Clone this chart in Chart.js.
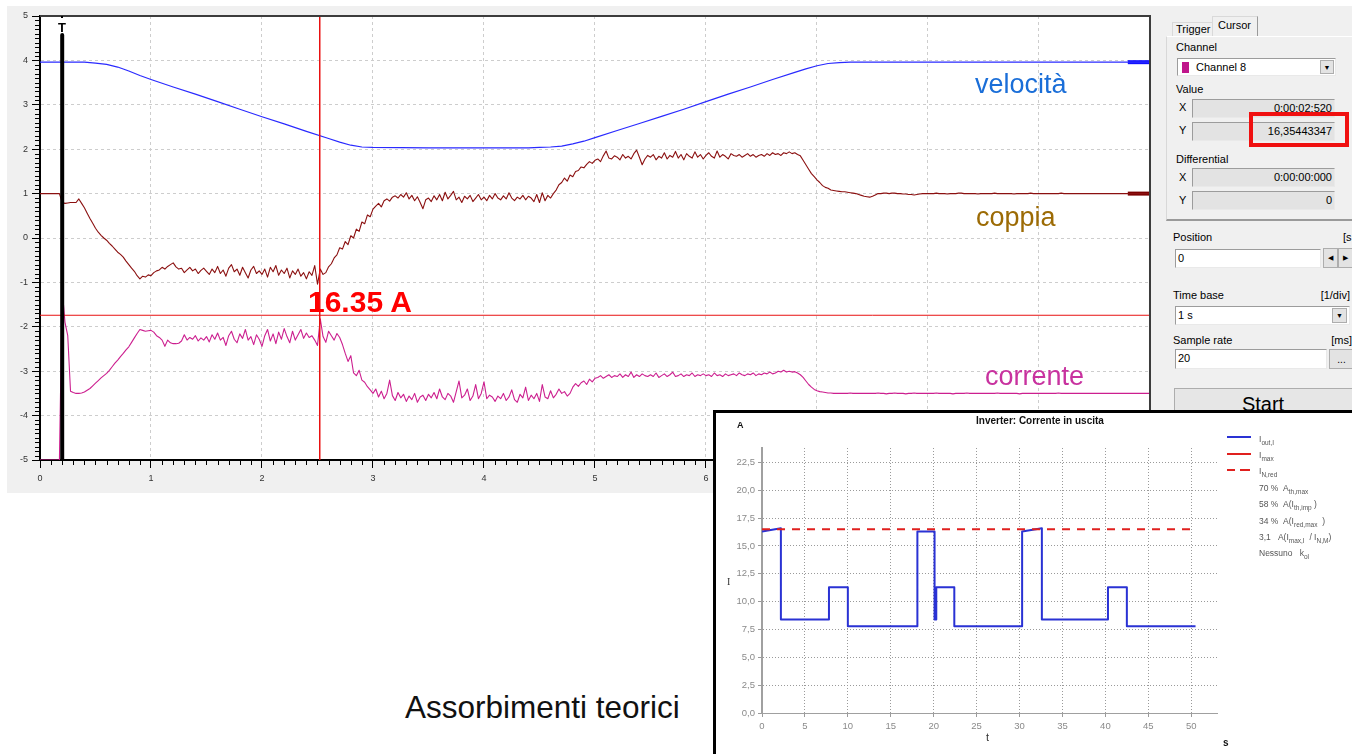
<!DOCTYPE html>
<html lang="it">
<head>
<meta charset="utf-8">
<title>Assorbimenti teorici</title>
<script src="https://cdn.jsdelivr.net/npm/chart.js@4.4.1/dist/chart.umd.min.js"></script>
<style>
  html, body { margin: 0; padding: 0; }
  body { width: 1352px; height: 754px; position: relative; overflow: hidden; background: #fff;
         font-family: 'Liberation Sans', Arial, sans-serif; }
  .abs { position: absolute; white-space: nowrap; }
  #scopeBox { left: 7px; top: 6px; width: 1153px; height: 487px; background: #f0f0f0; }
  #scope { position: absolute; left: 0; top: 0; }
  #panel { left: 1160px; top: 6px; width: 192px; height: 404px; background: #f0f0f0; }
  .ann { position: absolute; white-space: nowrap; line-height: 1; }
  .ui { position: absolute; white-space: nowrap; font-size: 11px; line-height: 13px; color: #000; }
  .tab { position: absolute; box-sizing: border-box; font-size: 11px; line-height: 13px; padding-left: 3px;
         border: 1px solid #d9d9d9; border-right-color: #9a9a9a; border-bottom: none; background: #f0f0f0; }
  .group { position: absolute; box-sizing: border-box; border: 1px solid #ffffff; border-left-color: #d8d8d8;
           border-bottom: 2px solid #9a9a9a; }
  .field { position: absolute; box-sizing: border-box; border: 1px solid #9c9c9c; border-right-color: #e9e9e9;
           border-bottom-color: #e9e9e9; background: #e3e3e3; font-size: 11px; line-height: 17px;
           text-align: right; padding-right: 2px; }
  .input { position: absolute; box-sizing: border-box; border: 1px solid #9c9c9c; border-right-color: #e9e9e9;
           border-bottom-color: #e9e9e9; background: #fff; font-size: 11px; line-height: 17px; padding-left: 2px; }
  .btn { position: absolute; box-sizing: border-box; border: 1px solid #adadad; background: #e3e3e3;
         text-align: center; font-size: 7px; line-height: 16px; color: #000; }
  .swatch { position: absolute; left: 4px; top: 3px; width: 7px; height: 11px; background: #c0168b; }
  #redBox { left: 1249px; top: 112px; width: 100px; height: 35px; box-sizing: border-box; border: 4px solid #f01010; }
  #inset { left: 713px; top: 410px; width: 639px; height: 344px; box-sizing: border-box; background: #fff;
           border-left: 3px solid #000; border-top: 3px solid #000; z-index: 2; }
  #inverter { position: absolute; left: 0; top: 0; }
  .ins { position: absolute; white-space: nowrap; z-index: 3; line-height: 1; }
  .leg { position: absolute; white-space: nowrap; z-index: 3; font-size: 8.5px; line-height: 10px; color: #555; }
  .leg sub { font-size: 6.5px; vertical-align: -3px; }
  .legline { position: absolute; z-index: 3; height: 0; }
</style>
</head>
<body>

<div class="abs" id="scopeBox"><canvas id="scope" width="1153" height="487"></canvas></div>

<!-- trigger marker -->
<div class="abs" style="left:61px;top:16px;width:2px;height:2px;background:#000"></div>
<div class="ann" style="left:58px;top:21px;font-size:13px;font-weight:bold;color:#000">T</div>

<!-- curve labels -->
<div class="ann" style="left:975px;top:71px;font-size:27px;color:#1a6ed8">velocità</div>
<div class="ann" style="left:976px;top:204px;font-size:27px;color:#9c6b05">coppia</div>
<div class="ann" style="left:985px;top:363px;font-size:27px;color:#c8329f">corrente</div>
<div class="ann" style="left:308px;top:287px;font-size:30px;font-weight:bold;color:#ff0000">16.35 A</div>

<!-- right control panel -->
<div class="abs" id="panel"></div>
<div class="tab" style="left:1172px;top:22px;width:41px;height:15px">Trigger</div>
<div class="tab" style="left:1212px;top:16px;width:46px;height:21px;padding-top:2px;padding-left:5px">Cursor</div>
<div class="group" style="left:1166px;top:36px;width:190px;height:185px"></div>
<div class="ui" style="left:1176px;top:41px">Channel</div>
<div class="input" style="left:1177px;top:58px;width:159px;height:18px;padding-left:18px">
  <span class="swatch"></span>Channel 8
  <span class="btn" style="left:142px;top:1px;width:14px;height:14px;line-height:13px">&#9660;</span>
</div>
<div class="ui" style="left:1176px;top:83px">Value</div>
<div class="ui" style="left:1179px;top:101px">X</div>
<div class="field" style="left:1192px;top:99px;width:143px;height:19px">0:00:02:520</div>
<div class="ui" style="left:1179px;top:124px">Y</div>
<div class="field" style="left:1192px;top:122px;width:143px;height:19px">16,35443347</div>
<div class="abs" id="redBox"></div>
<div class="ui" style="left:1176px;top:153px">Differential</div>
<div class="ui" style="left:1179px;top:171px">X</div>
<div class="field" style="left:1192px;top:168px;width:143px;height:19px">0:00:00:000</div>
<div class="ui" style="left:1179px;top:194px">Y</div>
<div class="field" style="left:1192px;top:191px;width:143px;height:19px">0</div>

<div class="ui" style="left:1173px;top:231px">Position</div>
<div class="ui" style="left:1343px;top:231px">[s</div>
<div class="input" style="left:1175px;top:249px;width:146px;height:19px">0</div>
<div class="btn" style="left:1323px;top:248px;width:15px;height:20px;line-height:18px">&#9664;</div>
<div class="btn" style="left:1338px;top:248px;width:15px;height:20px;line-height:18px">&#9654;</div>

<div class="ui" style="left:1173px;top:289px">Time base</div>
<div class="ui" style="left:1312px;top:289px;width:38px;text-align:right">[1/div]</div>
<div class="input" style="left:1175px;top:306px;width:175px;height:19px">1 s
  <span class="btn" style="left:156px;top:1px;width:15px;height:15px;line-height:14px">&#9660;</span>
</div>
<div class="ui" style="left:1173px;top:334px">Sample rate</div>
<div class="ui" style="left:1322px;top:334px;width:30px;text-align:right">[ms]</div>
<div class="input" style="left:1175px;top:349px;width:152px;height:20px">20</div>
<div class="btn" style="left:1329px;top:349px;width:25px;height:20px;font-size:10px;line-height:20px">...</div>
<div class="btn" style="left:1174px;top:388px;width:180px;height:40px;background:#e6e6e6"></div>
<div class="ann" style="left:1174px;top:394px;width:178px;text-align:center;font-size:20px;color:#000">Start</div>

<div class="ann" style="left:405px;top:692px;font-size:31.5px;color:#111">Assorbimenti teorici</div>

<!-- inverter inset -->
<div class="abs" id="inset"><canvas id="inverter" width="636" height="341"></canvas></div>
<div class="ins" style="left:737px;top:421px;font-size:9px;font-weight:bold;color:#111">A</div>
<div class="ins" style="left:940px;top:416px;width:200px;text-align:center;font-size:10px;font-weight:bold;color:#111">Inverter: Corrente in uscita</div>
<div class="ins" style="left:727px;top:577px;font-size:10px;font-family:'Liberation Serif',serif;color:#333">I</div>
<div class="ins" style="left:986px;top:732px;font-size:11px;color:#333">t</div>
<div class="ins" style="left:1223px;top:738px;font-size:10px;font-weight:bold;color:#111">s</div>

<div class="legline" style="left:1227px;top:436px;width:24px;border-top:2px solid #2a32d4"></div>
<div class="leg" style="left:1259px;top:434px">I<sub>out,I</sub></div>
<div class="legline" style="left:1227px;top:453px;width:24px;border-top:2px solid #e0201e"></div>
<div class="leg" style="left:1259px;top:450px">I<sub>max</sub></div>
<div class="legline" style="left:1227px;top:469px;width:8px;border-top:2px solid #e0201e"></div>
<div class="legline" style="left:1240px;top:469px;width:10px;border-top:2px solid #e0201e"></div>
<div class="leg" style="left:1259px;top:466px">I<sub>N,red</sub></div>
<div class="leg" style="left:1259px;top:483px">70 %&nbsp;&nbsp;A<sub>th,max</sub></div>
<div class="leg" style="left:1259px;top:499px">58 %&nbsp;&nbsp;A(I<sub>th,imp</sub>&nbsp;)</div>
<div class="leg" style="left:1259px;top:516px">34 %&nbsp;&nbsp;A(I<sub>red,max</sub>&nbsp;&nbsp;)</div>
<div class="leg" style="left:1259px;top:532px">3,1&nbsp;&nbsp;&nbsp;A(I<sub>max,I</sub>&nbsp;&nbsp;/ I<sub>N,M</sub>)</div>
<div class="leg" style="left:1259px;top:548px">Nessuno&nbsp;&nbsp;&nbsp;k<sub>ol</sub></div>

<script>
// ---- oscilloscope traces (time in s) ----
const sampleStep = 0.025;

const velTimes = [0, 0.4, 0.5, 0.6, 0.7, 0.8, 0.9, 1.0, 1.2, 1.4, 1.6, 1.8, 2.0, 2.2, 2.4, 2.6, 2.7, 2.8, 2.9, 3.0,
  3.5, 4.0, 4.4, 4.5, 4.6, 4.7, 4.8, 4.9, 5.0, 5.2, 5.4, 5.6, 5.8, 6.0, 6.2, 6.4, 6.6, 6.8, 6.9, 7.0, 7.1, 7.2, 7.3,
  8.0, 9.0, 10.0];
const velValues = [3.96, 3.96, 3.94, 3.91, 3.85, 3.76, 3.66, 3.57, 3.40, 3.24, 3.07, 2.90, 2.73, 2.57, 2.40, 2.24, 2.16, 2.09, 2.05, 2.04,
  2.03, 2.03, 2.03, 2.04, 2.05, 2.07, 2.12, 2.18, 2.26, 2.42, 2.58, 2.74, 2.90, 3.07, 3.24, 3.40, 3.57, 3.73, 3.81, 3.88, 3.93, 3.95, 3.96,
  3.96, 3.96, 3.96];

// one row = 0.5 s
const coppiaValues = [
  1.00, 1.00, 1.00, 1.00, 1.00, 1.00, 1.00, 1.00, 0.80, 0.78, 0.79, 0.80, 0.80, 0.80, 0.88, 0.78, 0.68, 0.56, 0.44, 0.33,
  0.22, 0.13, 0.06, 0.00, -0.05, -0.12, -0.18, -0.25, -0.32, -0.37, -0.43, -0.52, -0.60, -0.68, -0.75, -0.85, -0.92, -0.86, -0.88, -0.83,
  -0.85, -0.78, -0.74, -0.72, -0.66, -0.70, -0.64, -0.60, -0.56, -0.65, -0.70, -0.68, -0.78, -0.72, -0.66, -0.74, -0.70, -0.80, -0.73, -0.68,
  -0.75, -0.82, -0.70, -0.78, -0.64, -0.80, -0.72, -0.86, -0.68, -0.60, -0.76, -0.70, -0.84, -0.66, -0.78, -0.90, -0.72, -0.64, -0.80, -0.74,
  -0.82, -0.70, -0.88, -0.66, -0.76, -0.62, -0.84, -0.72, -0.80, -0.68, -0.90, -0.74, -0.82, -0.70, -0.86, -0.78, -0.92, -0.76, -0.84, -0.62,
  -1.04, -0.70, -0.82, -0.78, -0.65, -0.58, -0.45, -0.38, -0.22, -0.25, -0.08, -0.15, 0.05, 0.00, 0.20, 0.15, 0.36, 0.32, 0.52, 0.48,
  0.65, 0.72, 0.78, 0.70, 0.84, 0.88, 0.83, 0.92, 0.95, 0.90, 0.98, 0.92, 1.02, 0.88, 0.96, 0.84, 0.93, 0.80, 0.66, 0.86,
  0.90, 0.82, 0.95, 0.86, 0.98, 0.84, 1.03, 0.88, 0.96, 1.05, 0.86, 0.92, 0.80, 0.94, 0.88, 0.96, 0.82, 0.90, 0.98, 0.86,
  0.92, 0.84, 0.96, 0.88, 1.00, 0.90, 0.86, 0.95, 0.88, 1.02, 0.90, 0.84, 0.92, 0.88, 0.96, 0.86, 0.94, 0.90, 0.82, 0.98,
  0.80, 1.02, 0.84, 0.96, 0.90, 1.00, 1.08, 1.20, 1.25, 1.35, 1.28, 1.42, 1.38, 1.50, 1.52, 1.60, 1.58, 1.66, 1.72, 1.68,
  1.75, 1.78, 1.72, 1.85, 1.96, 1.80, 1.78, 1.85, 1.82, 1.76, 1.88, 1.80, 1.84, 1.78, 1.90, 1.98, 1.82, 1.65, 1.78, 1.86,
  1.82, 1.88, 1.76, 1.84, 1.80, 1.92, 1.78, 1.86, 1.82, 1.95, 1.80, 1.88, 1.76, 1.90, 1.84, 1.80, 1.94, 1.82, 1.88, 1.78,
  1.86, 1.92, 1.84, 1.80, 1.96, 1.82, 1.88, 1.84, 1.78, 1.90, 1.86, 1.84, 1.88, 1.82, 1.86, 1.90, 1.84, 1.88, 1.82, 1.86,
  1.88, 1.84, 1.90, 1.86, 1.92, 1.88, 1.90, 1.86, 1.92, 1.90, 1.94, 1.90, 1.92, 1.88, 1.85, 1.75, 1.65, 1.55, 1.45, 1.38,
  1.31, 1.25, 1.18, 1.14, 1.12, 1.08, 1.07, 1.06, 1.05, 1.04, 1.04, 1.03, 1.02, 1.01, 1.00, 0.98, 0.96, 0.94, 0.93, 0.92,
  0.94, 0.97, 1.00, 1.00, 1.01, 1.01, 1.00, 1.01, 1.01, 1.00, 1.00, 0.99, 0.99, 0.98, 0.98, 0.97, 0.98, 0.99, 1.00, 1.00,
  1.00, 1.00, 1.00, 1.01, 1.00, 1.00, 1.00, 0.99, 1.00, 1.00, 1.00, 1.01, 1.01, 1.00, 1.00, 1.00, 1.00, 1.00, 0.99, 1.00,
  1.00, 1.00, 1.00, 1.00, 1.01, 1.00, 1.00, 1.00, 1.00, 1.00, 1.00, 0.99, 1.00, 1.00, 1.00, 1.00, 1.00, 1.01, 1.00, 1.00,
  1.00, 1.00, 1.00, 1.00, 1.00, 1.00, 1.00, 1.00, 1.01, 1.00, 1.00, 1.00, 1.00, 1.00, 1.00, 1.00, 1.00, 1.00, 1.00, 1.00,
  1.00, 1.00, 1.00, 1.00, 1.00, 1.00, 1.00, 1.00, 1.00, 1.00, 1.00, 1.00, 1.00, 1.00, 1.00, 1.00, 1.00, 1.00, 1.00, 1.00,
  1.00
];

const correnteValues = [
  -5.00, -5.00, -5.00, -5.00, -5.00, -5.00, -5.00, -5.00, -1.15, -1.90, -2.20, -3.45, -3.48, -3.50, -3.50, -3.49, -3.47, -3.43, -3.39, -3.33,
  -3.27, -3.21, -3.15, -3.10, -3.05, -2.98, -2.90, -2.82, -2.75, -2.67, -2.60, -2.52, -2.45, -2.35, -2.25, -2.15, -2.06, -2.08, -2.10, -2.09,
  -2.08, -2.12, -2.20, -2.24, -2.30, -2.44, -2.30, -2.36, -2.38, -2.38, -2.37, -2.32, -2.18, -2.30, -2.24, -2.28, -2.20, -2.32, -2.25, -2.30,
  -2.22, -2.34, -2.18, -2.28, -2.14, -2.30, -2.24, -2.42, -2.20, -2.10, -2.28, -2.36, -2.16, -2.26, -2.06, -2.30, -2.22, -2.40, -2.18, -2.28,
  -2.44, -2.20, -2.06, -2.32, -2.16, -2.38, -2.12, -2.28, -2.04, -2.22, -2.36, -2.10, -2.30, -2.18, -2.06, -2.26, -2.14, -2.24, -2.20, -2.30,
  -2.42, -1.82, -2.22, -2.35, -2.10, -2.20, -2.30, -2.15, -2.24, -2.40, -2.60, -2.78, -2.65, -3.04, -3.10, -2.98, -3.20, -3.25, -3.35, -3.42,
  -3.50, -3.40, -3.58, -3.45, -3.62, -3.50, -3.20, -3.55, -3.66, -3.48, -3.60, -3.52, -3.68, -3.56, -3.64, -3.50, -3.70, -3.58, -3.54, -3.66,
  -3.52, -3.60, -3.48, -3.62, -3.40, -3.58, -3.64, -3.50, -3.56, -3.70, -3.46, -3.22, -3.60, -3.54, -3.40, -3.66, -3.56, -3.30, -3.62, -3.50,
  -3.24, -3.62, -3.54, -3.58, -3.68, -3.56, -3.62, -3.50, -3.66, -3.58, -3.42, -3.64, -3.70, -3.52, -3.60, -3.36, -3.66, -3.54, -3.62, -3.50,
  -3.68, -3.30, -3.58, -3.62, -3.44, -3.60, -3.52, -3.40, -3.50, -3.46, -3.56, -3.50, -3.36, -3.28, -3.34, -3.26, -3.22, -3.30, -3.18, -3.24,
  -3.16, -3.14, -3.10, -3.16, -3.12, -3.08, -3.14, -3.10, -3.12, -3.06, -3.14, -3.08, -3.12, -3.02, -3.14, -3.08, -3.12, -3.06, -3.10, -3.12,
  -3.08, -3.12, -3.04, -3.14, -3.10, -3.06, -3.12, -3.08, -3.02, -3.12, -3.10, -3.06, -3.12, -3.08, -3.10, -3.04, -3.12, -3.08, -3.10, -3.06,
  -3.10, -3.08, -3.12, -3.04, -3.10, -3.08, -3.12, -3.06, -3.10, -3.08, -3.06, -3.10, -3.04, -3.08, -3.10, -3.06, -3.08, -3.04, -3.10, -3.06,
  -3.08, -3.04, -3.06, -3.02, -3.06, -3.04, -3.00, -3.02, -2.98, -3.02, -3.00, -3.02, -3.01, -3.04, -3.08, -3.14, -3.22, -3.30, -3.36, -3.41,
  -3.44, -3.46, -3.47, -3.48, -3.49, -3.49, -3.50, -3.50, -3.50, -3.50, -3.50, -3.50, -3.49, -3.50, -3.50, -3.50, -3.50, -3.50, -3.50, -3.50,
  -3.50, -3.50, -3.49, -3.50, -3.50, -3.51, -3.50, -3.50, -3.49, -3.50, -3.50, -3.50, -3.51, -3.50, -3.50, -3.49, -3.50, -3.50, -3.50, -3.50,
  -3.50, -3.50, -3.50, -3.49, -3.50, -3.50, -3.50, -3.50, -3.50, -3.51, -3.50, -3.50, -3.50, -3.50, -3.49, -3.50, -3.50, -3.50, -3.50, -3.50,
  -3.50, -3.50, -3.50, -3.50, -3.50, -3.49, -3.50, -3.50, -3.50, -3.50, -3.50, -3.50, -3.50, -3.51, -3.50, -3.50, -3.50, -3.50, -3.50, -3.50,
  -3.50, -3.50, -3.50, -3.50, -3.50, -3.50, -3.50, -3.49, -3.50, -3.50, -3.50, -3.50, -3.50, -3.50, -3.50, -3.50, -3.50, -3.50, -3.50, -3.50,
  -3.50, -3.50, -3.50, -3.50, -3.50, -3.50, -3.50, -3.50, -3.50, -3.50, -3.50, -3.50, -3.50, -3.50, -3.50, -3.50, -3.50, -3.50, -3.50, -3.50,
  -3.50
];

const triggerTimes = [0.2, 0.2];
const triggerLevels = [4.57, -5];
const cursorTime = 2.52;
const cursorLevel = -1.74;
const endMarkTimes = [9.8, 10];

// ---- inverter inset (time in s, current in A) ----
const invTimes = [0, 2.2, 2.2, 7.8, 7.8, 10.0, 10.0, 18.1, 18.1, 20.1, 20.1, 20.3, 20.3, 22.4, 22.4, 30.3, 30.3, 32.6, 32.6, 40.3, 40.3, 42.5, 42.5, 50.5];
const invCurrent = [16.3, 16.6, 8.4, 8.4, 11.3, 11.3, 7.8, 7.8, 16.3, 16.3, 8.4, 8.4, 11.3, 11.3, 7.8, 7.8, 16.3, 16.6, 8.4, 8.4, 11.3, 11.3, 7.8, 7.8];
const redTimes = [0, 50];
const redLevel = [16.5, 16.5];

Chart.defaults.font.family = "'Liberation Sans', Arial, sans-serif";
Chart.defaults.animation = false;

function toPoints(times, values) {
  return times.map((t, i) => ({ x: t, y: values[i] }));
}
const sampleTimes = coppiaValues.map((v, i) => +(i * sampleStep).toFixed(3));

function trace(label, data, color, width) {
  return { label, data, borderColor: color, borderWidth: width, pointRadius: 0, tension: 0,
           borderJoinStyle: 'round', fill: false };
}

// white plot area, minor ticks and frame like the scope software
const scopeDecor = {
  id: 'scopeDecor',
  beforeDraw(chart) {
    const a = chart.chartArea, ctx = chart.ctx;
    ctx.save();
    ctx.fillStyle = '#ffffff';
    ctx.fillRect(a.left, a.top, a.right - a.left, a.bottom - a.top);
    ctx.restore();
  },
  afterDraw(chart) {
    const a = chart.chartArea, ctx = chart.ctx;
    const xs = chart.scales.x, ys = chart.scales.y;
    ctx.save();
    ctx.strokeStyle = '#000';
    ctx.lineWidth = 1;
    ctx.beginPath();
    for (let i = 1; i < 100; i++) {
      if (i % 10 === 0) continue;
      const py = Math.round(ys.getPixelForValue(-5 + i / 10)) + 0.5;
      ctx.moveTo(a.left - 5, py);
      ctx.lineTo(a.left, py);
      const px = Math.round(xs.getPixelForValue(i / 10)) + 0.5;
      ctx.moveTo(px, a.bottom);
      ctx.lineTo(px, a.bottom + 5);
    }
    ctx.stroke();
    ctx.strokeStyle = '#3c3c3c';
    ctx.lineWidth = 2;
    ctx.beginPath();
    ctx.moveTo(a.left, a.top);
    ctx.lineTo(a.right, a.top);
    ctx.lineTo(a.right, a.bottom);
    ctx.stroke();
    ctx.restore();
  }
};

const scopeGrid = { color: '#cdcdcd', tickLength: 8, tickColor: '#000', tickWidth: 1 };
const scopeBorder = { color: '#000', width: 2, dash: [3, 3] };

new Chart(document.getElementById('scope'), {
  type: 'line',
  data: {
    datasets: [
      trace('trigger', toPoints(triggerTimes, triggerLevels), '#000000', 4),
      trace('cursor X', toPoints([cursorTime, cursorTime], [5, -5]), '#e81010', 1),
      trace('cursor Y', toPoints([0, 10], [cursorLevel, cursorLevel]), '#e81010', 1),
      trace('velocità', toPoints(velTimes, velValues), '#2a2aff', 1.2),
      trace('coppia', toPoints(sampleTimes, coppiaValues), '#8b1010', 1.1),
      trace('corrente', toPoints(sampleTimes, correnteValues), '#cc1f8f', 1.1),
      trace('velocità end', toPoints(endMarkTimes, [3.96, 3.96]), '#1010ff', 4),
      trace('coppia end', toPoints(endMarkTimes, [1.0, 1.0]), '#7a0000', 4)
    ]
  },
  options: {
    responsive: false,
    events: [],
    layout: { padding: { left: 0, top: 10, right: 10, bottom: 0 } },
    plugins: { legend: { display: false }, tooltip: { enabled: false } },
    scales: {
      x: {
        type: 'linear', min: 0, max: 10,
        ticks: { stepSize: 1, color: '#333', font: { size: 9 }, padding: 5, maxRotation: 0, autoSkip: false },
        grid: scopeGrid, border: scopeBorder,
        afterFit(scale) { scale.height = 33; }
      },
      y: {
        min: -5, max: 5,
        ticks: { stepSize: 1, color: '#333', font: { size: 9 }, padding: 4 },
        grid: scopeGrid, border: scopeBorder,
        afterFit(scale) { scale.width = 33; }
      }
    }
  },
  plugins: [scopeDecor]
});

const invGrid = { color: '#9a9a9a', tickLength: 4, tickColor: '#9a9a9a' };
const commaLabel = v => v.toFixed(1).replace('.', ',');

new Chart(document.getElementById('inverter'), {
  type: 'line',
  data: {
    datasets: [
      Object.assign(trace('IN,red', toPoints(redTimes, redLevel), '#e0201e', 2), { borderDash: [8, 7] }),
      trace('Iout,I', toPoints(invTimes, invCurrent), '#2a32d4', 2)
    ]
  },
  options: {
    responsive: false,
    events: [],
    layout: { padding: { left: 0, top: 35, right: 135, bottom: 0 } },
    plugins: { legend: { display: false }, tooltip: { enabled: false } },
    scales: {
      x: {
        type: 'linear', min: 0, max: 53,
        ticks: { stepSize: 5, includeBounds: false, color: '#8a8a8a', font: { size: 9.5 }, padding: 4, maxRotation: 0, autoSkip: false },
        grid: invGrid,
        border: { color: '#a0a0a0', width: 1, dash: [1, 2] },
        afterFit(scale) { scale.height = 41; }
      },
      y: {
        min: 0, max: 23.8,
        ticks: { stepSize: 2.5, includeBounds: false, color: '#8a8a8a', font: { size: 9.5 }, padding: 3, callback: commaLabel },
        grid: invGrid,
        border: { color: '#a0a0a0', width: 2, dash: [1, 2] },
        afterFit(scale) { scale.width = 46; }
      }
    }
  }
});
</script>
</body>
</html>
